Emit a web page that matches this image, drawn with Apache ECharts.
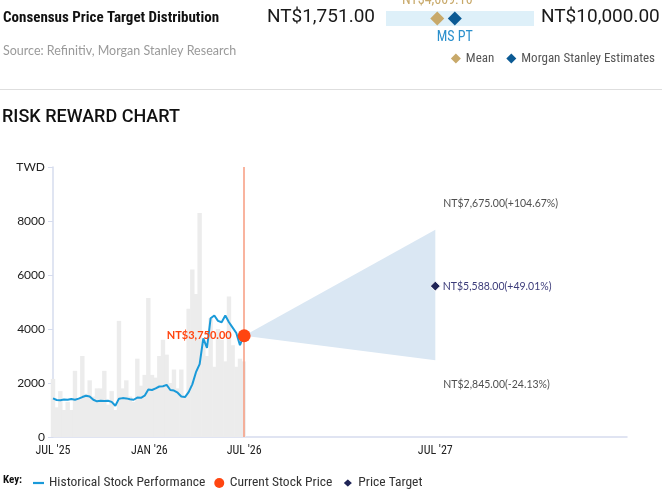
<!DOCTYPE html>
<html>
<head>
<meta charset="utf-8">
<script src="https://cdn.jsdelivr.net/npm/echarts@6/dist/echarts.min.js"></script>
<style>
html,body{margin:0;padding:0;background:#fff;}
#chart{width:662px;height:490px;}
</style>
</head>
<body>
<div id="chart"></div>
<script>
// ---------- data ----------
const weekDates = [
  '2025-07-01','2025-07-08','2025-07-15','2025-07-22','2025-07-29',
  '2025-08-05','2025-08-12','2025-08-19','2025-08-26',
  '2025-09-02','2025-09-09','2025-09-16','2025-09-23','2025-09-30',
  '2025-10-07','2025-10-14','2025-10-21','2025-10-28',
  '2025-11-04','2025-11-11','2025-11-18','2025-11-25',
  '2025-12-02','2025-12-09','2025-12-16','2025-12-23','2025-12-30',
  '2026-01-06','2026-01-13','2026-01-20','2026-01-27',
  '2026-02-03','2026-02-10','2026-02-17','2026-02-24',
  '2026-03-03','2026-03-10','2026-03-17','2026-03-24','2026-03-31',
  '2026-04-07','2026-04-14','2026-04-21','2026-04-28',
  '2026-05-05','2026-05-12','2026-05-19','2026-05-26',
  '2026-06-02','2026-06-09','2026-06-16','2026-06-23','2026-06-30'
];
const priceValues = [
  1430,1370,1360,1390,1380,1410,1380,1420,1480,1530,1500,1380,1320,1340,1330,1340,1300,1160,
  1420,1440,1430,1400,1380,1460,1450,1530,1760,1740,1800,1870,1880,1930,1740,1720,1640,1500,
  1480,1660,1950,2400,2700,3650,3300,4400,4500,4300,4250,4500,4250,4050,3850,3400,3750
];
const volumeValues = [
  2150,1100,1700,1000,1300,1000,2450,1400,3000,1600,2100,1500,1800,1800,2450,1200,1700,1000,
  4300,1800,2100,1500,1300,2900,1900,2300,5150,2300,2200,3000,3600,3050,2000,2500,1800,2500,
  1500,4750,6200,5300,8300,3600,3000,4400,2600,4000,3600,2800,5200,3400,2600,2900,2800
];
const currentDate = '2026-07-01';
const currentPrice = 3750;
const targetDate = '2027-07-01';
const targetPrice = 5588;
const bullPrice = 7675;
const bearPrice = 2845;
const targetLabel = 'NT$5,588.00(+49.01%)';
const bullLabel = 'NT$7,675.00(+104.67%)';
const bearLabel = 'NT$2,845.00(-24.13%)';
const currentLabel = 'NT$3,750.00';
const xTickDates = ['2025-07-01','2026-01-01','2026-07-01','2027-07-01'];
const xAxisStart = '2025-07-01';
const xAxisEnd = '2028-07-01';
const yTicks = [0,2000,4000,6000,8000,10000];
const consensusLow = 1751;
const consensusHigh = 10000;
const consensusMean = 4609.10;
const msPT = 5588;
const consensusLowLabel = 'NT$1,751.00';
const consensusHighLabel = 'NT$10,000.00';
const consensusMeanLabel = 'NT$4,609.10';

// ---------- helpers ----------
const ts = d => new Date(d + 'T00:00:00Z').getTime();
const MONTHS = ['JAN','FEB','MAR','APR','MAY','JUN','JUL','AUG','SEP','OCT','NOV','DEC'];
const condensed = "'Roboto Condensed','Liberation Sans Narrow','DejaVu Sans Condensed','Arial Narrow',Roboto,sans-serif";
const plain = "Lato,'Open Sans',Roboto,sans-serif";

const priceData = weekDates.map((d,i)=>[ts(d), priceValues[i]]);
const volumeData = weekDates.map((d,i)=>[ts(d), volumeValues[i]]);

const chart = echarts.init(document.getElementById('chart'), null, {renderer:'canvas'});

const option = {
  animation:false,
  backgroundColor:'#fff',
  textStyle:{fontFamily:plain},
  title:[{
    text:'RISK REWARD CHART', left:2, top:108, padding:0,
    textStyle:{fontFamily:"Roboto,sans-serif", fontSize:18, fontWeight:500, color:'#111'}
  }],
  graphic:[
    {type:'text', left:3, top:11, style:{text:'Consensus Price Target Distribution', font:"bold 15px "+condensed, fill:'#111'}},
    {type:'text', left:3, top:44, style:{text:'Source: Refinitiv, Morgan Stanley Research', font:"12.5px "+plain, fill:'#9a9a9a'}},
    {type:'text', right:287, top:8, style:{text:consensusLowLabel, font:"19px Roboto,sans-serif", fill:'#1a1a1a'}},
    {type:'text', left:541, top:8, style:{text:consensusHighLabel, font:"19px Roboto,sans-serif", fill:'#1a1a1a'}},
    {type:'line', shape:{x1:0,y1:89.5,x2:662,y2:89.5}, style:{stroke:'#dedede', lineWidth:1}},
    {type:'text', left:3, top:475, style:{text:'Key:', font:"bold 11px "+condensed, fill:'#111'}}
  ],
  legend:[{
    left:28, top:471, itemGap:9, itemWidth:11, itemHeight:10,
    textStyle:{fontFamily:condensed, fontSize:13.5, color:'#333'},
    data:[
      {name:'Historical Stock Performance', icon:'path://M0,0L12,0L12,2.4L0,2.4Z', itemStyle:{color:'#1a9ad9'}},
      {name:'Current Stock Price', icon:'circle'},
      {name:'Price Target', icon:'diamond'}
    ]
  },{
    right:2, top:47, itemGap:12, itemWidth:10, itemHeight:10,
    textStyle:{fontFamily:condensed, fontSize:13, color:'#555'},
    data:[{name:'Mean', icon:'diamond'},{name:'Morgan Stanley Estimates', icon:'diamond'}]
  }],
  grid:[
    {left:53, right:35, top:167, bottom:53},
    {left:386, width:148, top:11, height:15, show:true, backgroundColor:'#def0f9', borderWidth:0}
  ],
  xAxis:[{
    type:'value', gridIndex:0, min:ts(xAxisStart), max:ts(xAxisEnd),
    splitLine:{show:false},
    axisLine:{lineStyle:{color:'#d6dcee', width:1.5}},
    axisTick:{show:false},
    axisLabel:{
      customValues: xTickDates.map(ts),
      formatter: v => { const d=new Date(v); return MONTHS[d.getUTCMonth()]+" '"+String(d.getUTCFullYear()).slice(2); },
      fontFamily:condensed, fontSize:12, color:'#222', margin:8
    }
  },{
    type:'value', gridIndex:1, min:consensusLow, max:consensusHigh, show:false
  }],
  yAxis:[{
    type:'value', gridIndex:0, min:0, max:10000, interval:2000,
    splitLine:{show:false},
    axisLine:{show:true, lineStyle:{color:'#d6dcee', width:1.5}},
    axisTick:{show:true, length:5, lineStyle:{color:'#d6dcee'}},
    axisLabel:{
      formatter: v => v===yTicks[yTicks.length-1] ? 'TWD' : String(v),
      fontFamily:plain, fontSize:12, color:'#222', margin:8
    }
  },{
    type:'value', gridIndex:1, min:0, max:1, show:false
  }],
  series:[
    {
      name:'Volume', type:'bar', xAxisIndex:0, yAxisIndex:0,
      data:volumeData, barWidth:4.4, itemStyle:{color:'#ececec'}, z:1, silent:true
    },
    {
      name:'Cone', type:'custom', xAxisIndex:0, yAxisIndex:0, z:2, silent:true,
      data:[[ts(currentDate), currentPrice, ts(targetDate), bullPrice, bearPrice]],
      encode:{x:[0,2], y:[1,3,4]},
      renderItem:(params, api)=>{
        const p0 = api.coord([api.value(0), api.value(1)]);
        const p1 = api.coord([api.value(2), api.value(3)]);
        const p2 = api.coord([api.value(2), api.value(4)]);
        return {type:'polygon', shape:{points:[p0,p1,p2]}, style:{fill:'#dae7f3'}};
      }
    },
    {
      name:'Historical Stock Performance', type:'line', xAxisIndex:0, yAxisIndex:0,
      data:priceData, symbol:'none', showSymbol:false,
      lineStyle:{color:'#1a9ad9', width:2}, itemStyle:{color:'#1a9ad9'}, z:4,
      markLine:{
        silent:true, symbol:['none','none'], label:{show:false},
        lineStyle:{color:'#f79b7f', width:1.5, type:'solid'},
        data:[{xAxis:ts(currentDate)}]
      }
    },
    {
      name:'Current Stock Price', type:'scatter', xAxisIndex:0, yAxisIndex:0,
      data:[[ts(currentDate), currentPrice]], symbol:'circle', symbolSize:13,
      itemStyle:{color:'#ff4510', opacity:1}, z:6,
      label:{show:true, position:'left', distance:6, formatter:currentLabel,
        fontFamily:plain, fontWeight:'bold', fontSize:11, color:'#ff4510'}
    },
    {
      name:'Price Target', type:'scatter', xAxisIndex:0, yAxisIndex:0,
      data:[[ts(targetDate), targetPrice]], symbol:'diamond', symbolSize:10,
      itemStyle:{color:'#1f2456', borderColor:'#fff', borderWidth:1, opacity:1}, z:6,
      label:{show:true, position:'right', distance:2, formatter:targetLabel,
        fontFamily:plain, fontSize:10.5, color:'#3c3c7a'}
    },
    {
      name:'Range', type:'scatter', xAxisIndex:0, yAxisIndex:0, symbolSize:0, silent:true, z:6,
      data:[
        {value:[ts(targetDate), bullPrice], label:{formatter:bullLabel, offset:[8,-26]}},
        {value:[ts(targetDate), bearPrice], label:{formatter:bearLabel, offset:[8,24]}}
      ],
      label:{show:true, position:'inside', align:'left', fontFamily:plain, fontSize:10.5, color:'#222'}
    },
    {
      name:'Mean', type:'scatter', xAxisIndex:1, yAxisIndex:1,
      data:[[consensusMean, 0.5]], symbol:'diamond', symbolSize:14,
      itemStyle:{color:'#c8a96a', opacity:1}, z:5,
      label:{show:true, position:'top', distance:4, formatter:consensusMeanLabel,
        fontFamily:condensed, fontSize:14, color:'#c8a96a'}
    },
    {
      name:'Morgan Stanley Estimates', type:'scatter', xAxisIndex:1, yAxisIndex:1,
      data:[[msPT, 0.5]], symbol:'diamond', symbolSize:14,
      itemStyle:{color:'#0b5a94', opacity:1}, z:5,
      label:{show:true, position:'bottom', distance:5, formatter:'MS PT',
        fontFamily:condensed, fontSize:14, color:'#2a8fcc'}
    }
  ]
};
chart.setOption(option);
</script>
</body>
</html>
